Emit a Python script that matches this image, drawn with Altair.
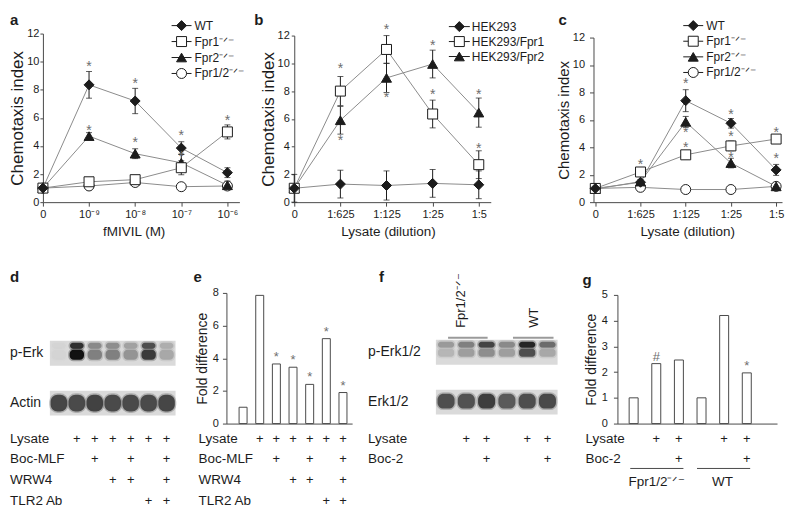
import json
import altair as alt
import pandas as pd

FONT = "Liberation Sans"
INK = "#1c1c1c"
AX = "#4a4a4a"
LINE = "#8c8c8c"
STAR = "#6e6e6e"
BLOT_BG = "#dadada"
W, H = 778, 500

# ---------------- panel a : fMIVIL ----------------
a_ticks = ["0", "10⁻⁹", "10⁻⁸", "10⁻⁷", "10⁻⁶"]
a_names = ["WT", "Fpr1⁻ᐟ⁻", "Fpr2⁻ᐟ⁻", "Fpr1/2⁻ᐟ⁻"]
a_wt = [1.0, 8.35, 7.2, 3.85, 2.1]
a_wt_err = [0.1, 0.95, 0.9, 0.45, 0.35]
a_fpr1 = [1.0, 1.45, 1.6, 2.45, 5.0]
a_fpr1_err = [0.05, 0.2, 0.25, 0.5, 0.5]
a_fpr2 = [1.0, 4.7, 3.45, 2.8, 1.2]
a_fpr2_err = [0.05, 0.25, 0.35, 0.6, 0.3]
a_fpr12 = [1.0, 1.15, 1.4, 1.1, 1.15]
a_fpr12_err = [0.05, 0.1, 0.12, 0.1, 0.1]
a_star_x = [1, 1, 2, 2, 3, 3, 4]
a_star_y = [9.8, 5.3, 8.6, 4.4, 4.95, 3.4, 6.0]

# ---------------- panel b : HEK293 lysate ----------------
dil_ticks = ["0", "1:625", "1:125", "1:25", "1:5"]
b_names = ["HEK293", "HEK293/Fpr1", "HEK293/Fpr2"]
b_hek = [1.0, 1.3, 1.2, 1.35, 1.25]
b_hek_err = [1.0, 1.0, 1.05, 1.0, 1.0]
b_fpr1 = [1.0, 8.0, 11.0, 6.35, 2.7]
b_fpr1_err = [0.05, 1.05, 1.0, 1.0, 1.0]
b_fpr2 = [1.0, 5.9, 8.95, 9.95, 6.45]
b_fpr2_err = [0.05, 1.0, 1.05, 1.0, 1.05]
b_star_x = [1, 1, 2, 2, 3, 3, 4, 4]
b_star_y = [9.8, 4.6, 12.6, 7.75, 11.45, 7.9, 7.9, 4.05]

# ---------------- panel c : lysate on knockouts ----------------
c_names = ["WT", "Fpr1⁻ᐟ⁻", "Fpr2⁻ᐟ⁻", "Fpr1/2⁻ᐟ⁻"]
c_wt = [1.0, 1.45, 7.4, 5.75, 2.35]
c_wt_err = [0.05, 0.15, 0.8, 0.35, 0.4]
c_fpr1 = [1.0, 2.2, 3.45, 4.1, 4.6]
c_fpr1_err = [0.05, 0.2, 0.3, 0.35, 0.3]
c_fpr2 = [0.95, 1.5, 5.85, 2.85, 1.15]
c_fpr2_err = [0.05, 0.15, 0.4, 0.35, 0.25]
c_fpr12 = [1.0, 1.08, 0.92, 0.92, 1.15]
c_fpr12_err = [0.05, 0.05, 0.05, 0.05, 0.05]
c_star_x = [1, 2, 2, 2, 3, 3, 3, 4, 4]
c_star_y = [2.95, 8.8, 5.25, 4.15, 6.6, 5.0, 3.4, 5.25, 3.35]

# ---------------- panels d / e ----------------
de_rows = ["Lysate", "Boc-MLF", "WRW4", "TLR2 Ab"]
de_lysate = [0, 1, 1, 1, 1, 1, 1]
de_boc = [0, 0, 1, 0, 1, 0, 1]
de_wrw4 = [0, 0, 0, 1, 1, 0, 1]
de_tlr2 = [0, 0, 0, 0, 0, 1, 1]
d_membranes = ["p-Erk", "Actin"]
d_perk_upper = [0.03, 0.85, 0.4, 0.38, 0.28, 0.7, 0.22]
d_perk_lower = [0.03, 1.0, 0.45, 0.45, 0.35, 0.8, 0.25]
d_actin = [0.74, 0.72, 0.76, 0.72, 0.72, 0.72, 0.74]
e_fold = [1.0, 7.85, 3.65, 3.45, 2.4, 5.2, 1.9]
e_mark = ["", "", "*", "*", "*", "*", "*"]

# ---------------- panels f / g ----------------
fg_rows = ["Lysate", "Boc-2"]
fg_lysate = [0, 1, 1, 0, 1, 1]
fg_boc2 = [0, 0, 1, 0, 0, 1]
fg_groups = ["Fpr1/2⁻ᐟ⁻", "WT"]
f_group_start = [1.1, 4.3]
f_group_end = [3.05, 6.3]
f_group_label = [1.73, 5.32]
g_group_start = [0.85, 3.8]
g_group_end = [3.2, 6.15]
g_group_label = [2.03, 4.93]
f_membranes = ["p-Erk1/2", "Erk1/2"]
f_perk_upper = [0.32, 0.45, 0.75, 0.4, 0.9, 0.55]
f_perk_lower = [0.18, 0.3, 0.38, 0.3, 0.7, 0.25]
f_erk = [0.7, 0.68, 0.78, 0.64, 0.7, 0.72]
g_fold = [1.0, 2.33, 2.47, 1.0, 4.2, 1.97]
g_mark = ["", "#", "", "", "", "*"]

SHAPES4 = ["diamond", "square", "triangle-up", "circle"]
FILLS4 = [INK, "white", INK, "white"]


def letter(ch, x, y):
    return alt.Chart(pd.DataFrame({"t": [ch]})).mark_text(
        align="left", baseline="top", fontSize=15, fontWeight="bold", color=INK
    ).encode(text="t:N", x=alt.value(x), y=alt.value(y))


def line_panel(names, shapes, fills, vals, errs, star_x, star_y, ticks, xtitle, title_x,
               ytitle_size, ytick, ylabpad, ytitlepad, xdom, xrng, yrng,
               leg_rows, leg_x, let, let_xy):
    rows = []
    for nm, v, e in zip(names, vals, errs):
        for i, (vv, ee) in enumerate(zip(v, e)):
            rows.append({"series": nm, "x": i, "v": vv, "lo": vv - ee, "hi": vv + ee})
    df = pd.DataFrame(rows)
    xs = alt.Scale(domain=xdom, range=xrng, nice=False, zero=False)
    ys = alt.Scale(domain=[0, 12], range=yrng, nice=False, zero=False)
    xa = alt.Axis(orient="bottom", offset=yrng[0] - H, values=list(range(len(ticks))),
                  labelExpr=json.dumps(ticks, ensure_ascii=False) + "[datum.value]",
                  title=xtitle, titleX=title_x, tickSize=4, labelPadding=2, labelFontSize=11,
                  labelFlush=False, labelOverlap=False, titleFontSize=13.5, titlePadding=5)
    ya = alt.Axis(orient="left", offset=-xrng[0], values=list(range(0, 13, 2)),
                  title="Chemotaxis index", tickSize=ytick, labelPadding=ylabpad, labelFontSize=11,
                  titleFontSize=ytitle_size, titlePadding=ytitlepad, labelFlush=False)

    def X(f):
        return alt.X(f, type="quantitative", scale=xs, axis=xa)

    def Y(f):
        return alt.Y(f, type="quantitative", scale=ys, axis=ya)

    shp = alt.Shape("series:N", scale=alt.Scale(domain=names, range=shapes), legend=None)
    fil = alt.Fill("series:N", scale=alt.Scale(domain=names, range=fills), legend=None)
    base = alt.Chart(df)
    lines = base.mark_line(color=LINE, strokeWidth=1).encode(X("x"), Y("v"), detail="series:N")
    ebar = base.mark_rule(color=INK, strokeWidth=1).encode(X("x"), Y("lo"), y2="hi:Q")
    cap_hi = base.mark_tick(color=INK, orient="horizontal", size=6, thickness=1).encode(X("x"), Y("hi"))
    cap_lo = base.mark_tick(color=INK, orient="horizontal", size=6, thickness=1).encode(X("x"), Y("lo"))
    pts = alt.Chart(df.iloc[::-1].reset_index(drop=True)).mark_point(
        filled=True, opacity=1, size=100, stroke=INK, strokeWidth=1
    ).encode(X("x"), Y("v"), shape=shp, fill=fil)
    sdf = pd.DataFrame({"x": star_x, "y": star_y, "t": ["*"] * len(star_x)})
    stars = alt.Chart(sdf).mark_text(fontSize=14, color=STAR, dy=7, baseline="alphabetic").encode(
        X("x"), Y("y"), text="t:N")
    main = alt.layer(lines, ebar, cap_hi, cap_lo, pts, stars)

    leg = pd.DataFrame({"series": names})
    ly = alt.Y("series:N", scale=alt.Scale(type="point", domain=names, range=leg_rows, padding=0), axis=None)
    leg_line = alt.Chart(leg).mark_rule(color=INK, strokeWidth=1).encode(
        x=alt.value(leg_x[0]), x2=alt.value(leg_x[1]), y=ly)
    leg_pt = alt.Chart(leg).mark_point(filled=True, opacity=1, size=100, stroke=INK, strokeWidth=1).encode(
        x=alt.value(leg_x[2]), y=ly, shape=shp, fill=fil)
    leg_tx = alt.Chart(leg).mark_text(align="left", baseline="middle", fontSize=12, color=INK).encode(
        x=alt.value(leg_x[3]), y=ly, text="series:N")
    legend = alt.layer(leg_line, leg_pt, leg_tx)
    return alt.layer(main, legend, letter(let, *let_xy)).resolve_scale(y="independent")


def table_layer(names, flags, X, label_x, y0, step):
    pl = []
    for nm, fl in zip(names, flags):
        for i, f in enumerate(fl):
            if f:
                pl.append({"row": nm, "x": i + 1, "t": "+"})
    yrow = alt.Y("row:N", scale=alt.Scale(type="point", domain=names,
                                          range=[y0, y0 + step * (len(names) - 1)], padding=0), axis=None)
    plus = alt.Chart(pd.DataFrame(pl)).mark_text(fontSize=13, color=INK, baseline="middle").encode(
        X("x"), yrow, text="t:N")
    labs = alt.Chart(pd.DataFrame({"row": names})).mark_text(
        align="left", baseline="middle", fontSize=13.5, color=INK).encode(
        x=alt.value(label_x), y=yrow, text="row:N")
    return alt.layer(plus, labs)


def group_layer(groups, gs, ge, gl, X, y_line, y_label, rotated, line_color, line_w):
    ldf = pd.DataFrame({"g": groups, "gs": gs, "ge": ge, "gm": gl,
                        "lev_line": ["line"] * len(groups), "lev_lab": ["label"] * len(groups)})

    def gy(f):
        return alt.Y(f, type="nominal", scale=alt.Scale(type="point", domain=["line", "label"],
                                                        range=[y_line, y_label], padding=0), axis=None)

    lines = alt.Chart(ldf).mark_rule(color=line_color, strokeWidth=line_w).encode(
        X("gs"), x2="ge:Q", y=gy("lev_line"))
    if rotated:
        labels = alt.Chart(ldf).mark_text(angle=270, align="left", baseline="middle", fontSize=13,
                                          color=INK).encode(X("gm"), y=gy("lev_lab"), text="g:N")
    else:
        labels = alt.Chart(ldf).mark_text(align="center", baseline="middle", fontSize=13.5,
                                          color=INK).encode(X("gm"), y=gy("lev_lab"), text="g:N")
    return alt.layer(lines, labels)


TROW0, TSTEP = 431, 21


def bar_panel(vals, marks, xdom, xrng, ymax, yticks, yrng, ylabpad, bw,
              trows, tflags, tlabel_x, let, let_xy, groups=None, group_y=None):
    df = pd.DataFrame({"x": list(range(1, len(vals) + 1)), "v": vals, "m": marks})
    xs = alt.Scale(domain=xdom, range=xrng, nice=False, zero=False)
    xa = alt.Axis(orient="bottom", offset=yrng[0] - H, labels=False, ticks=False, title=None, domainColor=AX)
    ys = alt.Scale(domain=[0, ymax], range=yrng, nice=False, zero=False)
    ya = alt.Axis(orient="left", offset=-xrng[0], values=yticks, title="Fold difference", tickSize=4,
                  labelPadding=ylabpad, labelFontSize=11, titleFontSize=14, titlePadding=3, labelFlush=False)

    def X(f):
        return alt.X(f, type="quantitative", scale=xs, axis=xa)

    def Y(f):
        return alt.Y(f, type="quantitative", scale=ys, axis=ya)

    bars = alt.Chart(df).mark_bar(size=bw, fill="white", stroke=AX, strokeWidth=1).encode(X("x"), Y("v"))
    mk = alt.Chart(df[df.m != ""]).mark_text(fontSize=13, color=STAR, baseline="alphabetic", dy=-3).encode(
        X("x"), Y("v"), text="m:N")
    layers = [alt.layer(bars, mk), table_layer(trows, tflags, X, tlabel_x, TROW0, TSTEP)]
    if groups is not None:
        layers.append(group_layer(*groups, X=X, y_line=group_y[0], y_label=group_y[1], rotated=False,
                                  line_color=AX, line_w=1))
    layers.append(letter(let, *let_xy))
    return alt.layer(*layers).resolve_scale(y="independent")


def blot_panel(n, xrng, membranes, box_rng, mem_label_x, band_rows, trows, tflags,
               let, let_xy, groups=None, group_y=None):
    xs = alt.Scale(domain=[0.5, n + 0.5], range=xrng, nice=False, zero=False)

    def X(f):
        return alt.X(f, type="quantitative", scale=xs, axis=None)

    box_df = pd.DataFrame({"membrane": membranes, "xs": [0.5] * len(membranes),
                           "xe": [n + 0.5] * len(membranes)})
    ybox = alt.Y("membrane:N", scale=alt.Scale(type="band", domain=membranes, range=box_rng,
                                               paddingInner=0.5, paddingOuter=0), axis=None)
    boxes = alt.Chart(box_df).mark_rect(fill=BLOT_BG).encode(X("xs"), x2="xe:Q", y=ybox)
    labs = alt.Chart(box_df).mark_text(align="left", baseline="middle", fontSize=14, color=INK).encode(
        x=alt.value(mem_label_x), y=ybox, text="membrane:N")
    layers = [alt.layer(boxes, labs)]
    ink = alt.Scale(domain=[0, 1], range=[BLOT_BG, "#121212"], interpolate="rgb")
    for k, (vals, y0, y1, hw, rad) in enumerate(band_rows):
        fld = "band%d" % k
        bdf = pd.DataFrame({fld: ["b"] * n, "xs": [i + 1 - hw for i in range(n)],
                            "xe": [i + 1 + hw for i in range(n)], "intensity": vals})
        yb = alt.Y(fld + ":N", scale=alt.Scale(type="band", domain=["b"], range=[y0, y1],
                                               paddingInner=0, paddingOuter=0), axis=None)
        layers.append(alt.Chart(bdf).mark_rect(cornerRadius=rad, strokeWidth=3, strokeOpacity=0.3).encode(
            X("xs"), x2="xe:Q", y=yb,
            fill=alt.Fill("intensity:Q", scale=ink, legend=None),
            stroke=alt.Stroke("intensity:Q", scale=ink, legend=None)))
    layers.append(table_layer(trows, tflags, X, mem_label_x, TROW0, TSTEP))
    if groups is not None:
        layers.append(group_layer(*groups, X=X, y_line=group_y[0], y_label=group_y[1], rotated=True,
                                  line_color="#9a9a9a", line_w=2))
    layers.append(letter(let, *let_xy))
    return alt.layer(*layers).resolve_scale(y="independent")


pa = line_panel(a_names, SHAPES4, FILLS4, [a_wt, a_fpr1, a_fpr2, a_fpr12],
                [a_wt_err, a_fpr1_err, a_fpr2_err, a_fpr12_err], a_star_x, a_star_y,
                a_ticks, "fMIVIL (M)", 124, 17, 3, 1, 0, [0, 4.26], [33, 230], [194, 25],
                [17, 65], [162, 182, 172, 185], "a", (0, 4))
pb = line_panel(b_names, ["diamond", "square", "triangle-up"], [INK, "white", INK],
                [b_hek, b_fpr1, b_fpr2], [b_hek_err, b_fpr1_err, b_fpr2_err], b_star_x, b_star_y,
                dil_ticks, "Lysate (dilution)", 379, 17, 3, 2, 0, [0, 4.26], [285, 482], [194, 27],
                [18, 48], [440, 461, 450.5, 463], "b", (245, 4))
pc = line_panel(c_names, SHAPES4, FILLS4, [c_wt, c_fpr1, c_fpr2, c_fpr12],
                [c_wt_err, c_fpr1_err, c_fpr2_err, c_fpr12_err], c_star_x, c_star_y,
                dil_ticks, "Lysate (dilution)", 679, 15, 4, 5, 1, [-0.04, 4.13], [585, 774], [194, 29],
                [17, 64], [675, 695, 685, 698], "c", (550, 4))

pd_ = blot_panel(7, [40, 166], d_membranes, [333, 408], 0,
                 [(d_perk_upper, 335, 341, 0.38, 3), (d_perk_lower, 342, 352, 0.4, 4),
                  (d_actin, 387, 404, 0.46, 7)],
                 de_rows, [de_lysate, de_boc, de_wrw4, de_tlr2], "d", (0, 262))
pe = bar_panel(e_fold, e_mark, [0.3, 7.25], [217, 343], 8, [0, 2, 4, 6, 8], [416, 285], 4, 8,
               de_rows, [de_lysate, de_boc, de_wrw4, de_tlr2], 189, "e", (184, 262))
pf = blot_panel(6, [427, 549], f_membranes, [332, 407], 359,
                [(f_perk_upper, 334, 340, 0.4, 3), (f_perk_lower, 341, 349, 0.4, 3),
                 (f_erk, 386, 401, 0.42, 6)],
                fg_rows, [fg_lysate, fg_boc2], "f", (370, 262),
                groups=(fg_groups, f_group_start, f_group_end, f_group_label), group_y=(330, 320))
pg = bar_panel(g_fold, g_mark, [0.504, 7.116], [609, 769], 5, [0, 1, 2, 3, 4, 5], [416, 287], 6, 9,
               fg_rows, [fg_lysate, fg_boc2], 577, "g", (574, 265),
               groups=(fg_groups, g_group_start, g_group_end, g_group_label), group_y=(461, 475))

chart = alt.layer(pa, pb, pc, pd_, pe, pf, pg).resolve_scale(
    x="independent", y="independent", shape="independent", fill="independent", stroke="independent"
).properties(width=W, height=H, padding=0).configure(font=FONT).configure_view(stroke=None).configure_axis(
    grid=False, labelColor=INK, titleColor=INK, titleFontWeight="normal",
    domainColor=AX, tickColor=AX, domainWidth=1, tickWidth=1
)

chart.save("out.html", embed_options={"renderer": "svg", "actions": False})
